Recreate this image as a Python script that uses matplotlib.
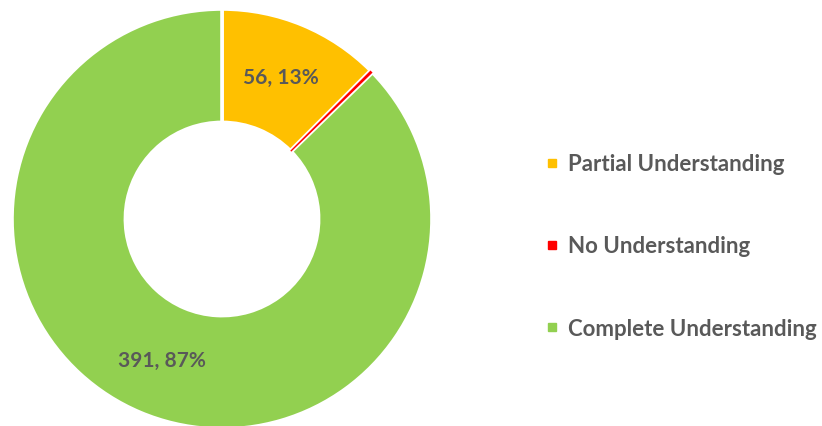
import matplotlib
matplotlib.use("Agg")
import math
import matplotlib.pyplot as plt
from matplotlib.lines import Line2D

categories = ["Partial Understanding", "No Understanding", "Complete Understanding"]
values = [56, 1, 391]
colors = ["#FFC000", "#FF0000", "#92D050"]
text_color = "#595959"

plt.rcParams['font.family'] = ['Lato', 'DejaVu Sans']

fig = plt.figure(figsize=(8.22, 4.27), dpi=100)
W, H = 822, 427
cx, cy, R = 222, 220, 210
ax = fig.add_axes([(cx - R) / W, (H - cy - R) / H, 2 * R / W, 2 * R / H])

total = sum(values)

def fmt(pct):
    if pct < 1:
        return ""
    n = int(round(pct * total / 100.0))
    p = math.floor(100.0 * n / total + 0.5 + 1e-9)
    return f"{n}, {p}%"

wedges, texts, autotexts = ax.pie(
    values, colors=colors, startangle=90, counterclock=False,
    radius=1.0, autopct=fmt, pctdistance=0.73,
    wedgeprops=dict(width=0.54, edgecolor="white", linewidth=2.6),
    textprops=dict(color=text_color, fontsize=15, fontweight="bold"))
wedges[1].set_linewidth(0)
wedges[1].set_zorder(5)
for t in autotexts:
    t.set_zorder(6)
ax.set_xlim(-1, 1)
ax.set_ylim(-1, 1)
ax.set_aspect("equal")
ax.axis("off")

handles = [Line2D([0], [0], marker="s", linestyle="none", markersize=5.5,
                  markerfacecolor=c, markeredgecolor=c) for c in colors]
leg = fig.legend(handles, categories, loc="center left",
                 bbox_to_anchor=(525 / W, 1 - 247 / H), frameon=False,
                 labelspacing=2.75, handlelength=0.6, handletextpad=0.45,
                 prop=dict(family=['Lato', 'DejaVu Sans'], size=16, weight="bold"))
for t in leg.get_texts():
    t.set_color(text_color)

fig.savefig("out.png", dpi=100)
